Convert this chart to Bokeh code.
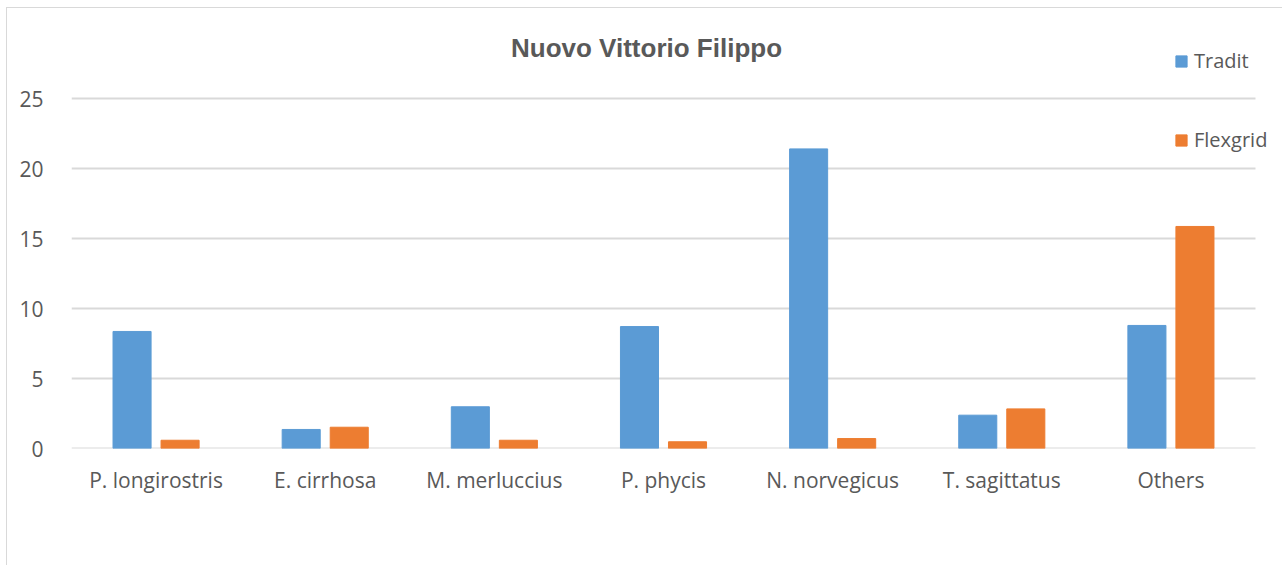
from bokeh.plotting import figure
from bokeh.models import Range1d, Legend, LegendItem, ColumnDataSource, FixedTicker, Label
from bokeh.embed import file_html
from bokeh.resources import INLINE

species = ["P. longirostris", "E. cirrhosa", "M. merluccius", "P. phycis",
           "N. norvegicus", "T. sagittatus", "Others"]
tradit = [8.36, 1.36, 2.98, 8.71, 21.4, 2.38, 8.79]
flexgrid = [0.59, 1.52, 0.59, 0.48, 0.71, 2.83, 15.86]
y_ticks = [0, 5, 10, 15, 20, 25]

FONT = "Open Sans"
TITLE_FONT = "Liberation Sans"
TEXT = "#595959"
BLUE = "#5B9BD5"
ORANGE = "#ED7D31"
GRID = "#d9d9d9"

# pixel layout of the plotting frame inside the figure
W, H = 1275, 557
LEFT, RIGHT, TOP, BOTTOM = 64, 1275, 10, 440
CAT_PX = (1248 - LEFT) / len(species)   # width of one category slot
UNIT_PX = 14.0                          # pixels per y unit

n = len(species)
centers = [i + 0.5 for i in range(n)]
src = ColumnDataSource(dict(
    xt=[c - 0.142 for c in centers], xf=[c + 0.142 for c in centers],
    tradit=tradit, flexgrid=flexgrid))

p = figure(width=W, height=H,
           x_range=Range1d(0, (RIGHT - LEFT) / CAT_PX),
           y_range=Range1d(0, (BOTTOM - TOP) / UNIT_PX),
           output_backend="svg", toolbar_location=None,
           min_border_left=LEFT, min_border_right=W - RIGHT,
           min_border_top=TOP, min_border_bottom=H - BOTTOM)
p.margin = (8, 0, 0, 7)
p.styles = {"outline": "1px solid #d9d9d9"}

# horizontal grid lines spanning the category slots only
p.segment(x0=[0] * len(y_ticks), x1=[n] * len(y_ticks), y0=y_ticks, y1=y_ticks,
          line_color=GRID, line_width=2)

r1 = p.vbar(x="xt", top="tradit", width=0.225, source=src, color=BLUE)
r2 = p.vbar(x="xf", top="flexgrid", width=0.225, source=src, color=ORANGE)

p.xaxis.ticker = FixedTicker(ticks=centers)
p.xaxis.major_label_overrides = {c: s for c, s in zip(centers, species)}
p.yaxis.ticker = FixedTicker(ticks=y_ticks)
for ax in (p.xaxis, p.yaxis):
    ax.axis_line_color = None
    ax.major_tick_line_color = None
    ax.minor_tick_line_color = None
    ax.major_label_text_font = FONT
    ax.major_label_text_font_size = "21px"
    ax.major_label_text_color = TEXT
p.yaxis.major_label_standoff = 22
p.xaxis.major_label_standoff = 11

p.grid.grid_line_color = None
p.outline_line_color = None

title = Label(x=575, y=401, x_units="screen", y_units="screen",
              text="Nuovo Vittorio Filippo", text_align="center",
              text_baseline="middle", text_font=TITLE_FONT,
              text_font_size="26px", text_font_style="bold", text_color=TEXT)
p.add_layout(title)

legend = Legend(items=[LegendItem(label="Tradit", renderers=[r1]),
                       LegendItem(label="Flexgrid", renderers=[r2])],
                location=(1103, 295), orientation="vertical",
                glyph_width=14, glyph_height=14, label_height=20,
                spacing=52, label_standoff=6, padding=0, margin=0,
                border_line_color=None, background_fill_alpha=0,
                label_text_font=FONT, label_text_font_size="20px",
                label_text_color=TEXT)
p.add_layout(legend, "center")

open("out.html", "w").write(file_html(p, INLINE))
